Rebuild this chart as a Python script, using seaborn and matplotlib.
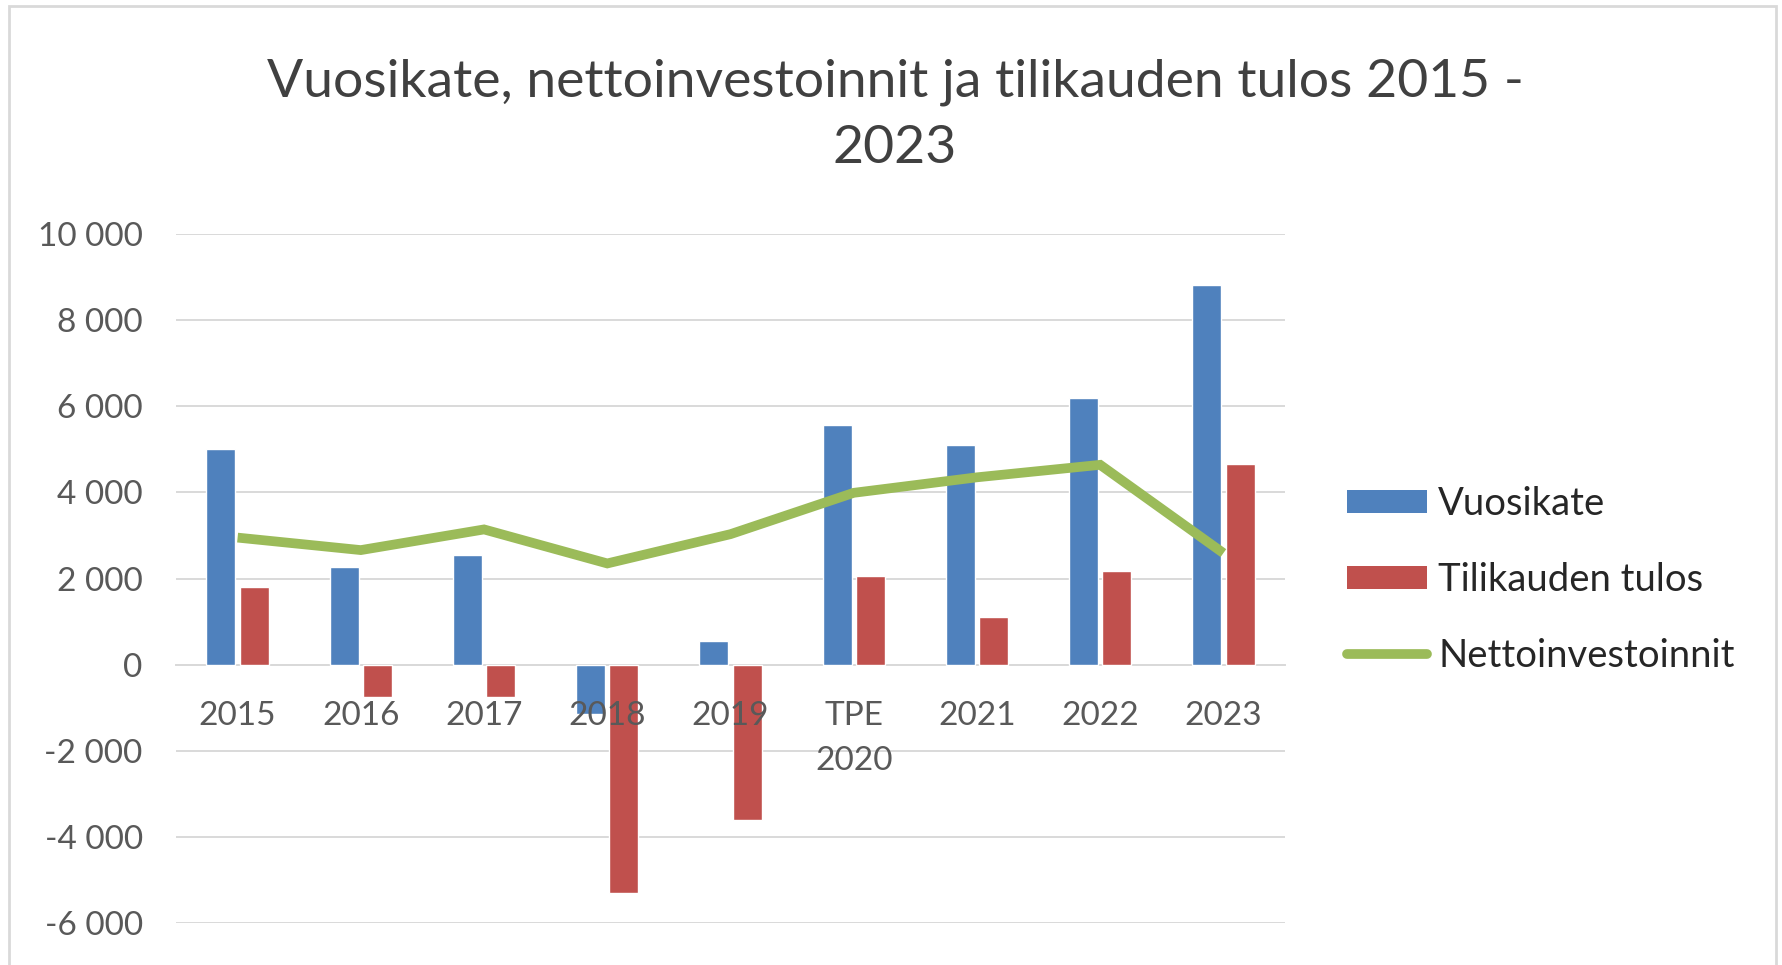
import matplotlib
matplotlib.use('Agg')
import numpy as np
import pandas as pd
import seaborn as sns
import matplotlib.pyplot as plt
from matplotlib.patches import Patch, Rectangle
from matplotlib.lines import Line2D
from matplotlib.ticker import FuncFormatter, MultipleLocator

blue_color = '#4F81BD'
red_color = '#C0504D'
green_color = '#9BBB59'
grid_color = '#D9D9D9'
text_color = '#595959'

years = ['2015', '2016', '2017', '2018', '2019', 'TPE\n2020', '2021', '2022', '2023']
vuosikate = [5000, 2270, 2550, -1150, 550, 5570, 5100, 6200, 8820]
tilikauden_tulos = [1800, -740, -740, -5300, -3600, 2060, 1100, 2170, 4670]
nettoinvestoinnit = [2950, 2660, 3140, 2350, 3030, 3990, 4350, 4640, 2590]

bars = pd.DataFrame({
    'vuosi': years * 2,
    'arvo': vuosikate + tilikauden_tulos,
    'sarja': ['Vuosikate'] * len(years) + ['Tilikauden tulos'] * len(years),
})
line = pd.DataFrame({'pos': np.arange(len(years)), 'arvo': nettoinvestoinnit})

sns.set_style('white')
plt.rcParams['font.family'] = ['Lato', 'DejaVu Sans']

fig = plt.figure(figsize=(17.83, 9.65), dpi=100)
ax = fig.add_axes([0.0987, 0.0435, 0.622, 0.714])

sns.barplot(data=bars, x='vuosi', y='arvo', hue='sarja', order=years,
            hue_order=['Vuosikate', 'Tilikauden tulos'],
            palette=[blue_color, red_color], width=0.54, gap=0.13,
            saturation=1, legend=False, ax=ax, zorder=3)
sns.lineplot(data=line, x='pos', y='arvo', color=green_color, linewidth=7,
             ax=ax, zorder=4, solid_capstyle='butt', solid_joinstyle='miter')

ax.set_ylim(-6000, 10000)
ax.set_xlim(-0.5, len(years) - 0.5)
ax.yaxis.set_major_locator(MultipleLocator(2000))
ax.yaxis.set_major_formatter(FuncFormatter(lambda v, p: f'{int(v):,}'.replace(',', ' ')))
ax.yaxis.grid(True, color=grid_color, linewidth=1.4, zorder=0)
ax.set_axisbelow(True)
for s in ['top', 'right', 'left']:
    ax.spines[s].set_visible(False)
ax.spines['bottom'].set_position(('data', 0))
ax.spines['bottom'].set_color(grid_color)
ax.spines['bottom'].set_linewidth(1.4)
ax.spines['bottom'].set_zorder(2)
ax.xaxis.set_zorder(5)
ax.set_xlabel('')
ax.set_ylabel('')
ax.tick_params(axis='both', length=0, labelsize=24, colors=text_color)
ax.tick_params(axis='x', pad=26)
ax.tick_params(axis='y', pad=24)
for lab in ax.get_xticklabels():
    lab.set_linespacing(1.62)

handles = [Patch(facecolor=blue_color, edgecolor=blue_color, linewidth=0, label='Vuosikate'),
           Patch(facecolor=red_color, edgecolor=red_color, linewidth=0, label='Tilikauden tulos'),
           Line2D([0], [0], color=green_color, linewidth=7, solid_capstyle='round',
                  label='Nettoinvestoinnit')]
fig.legend(handles=handles, loc='center left', bbox_to_anchor=(0.736, 0.399),
           frameon=False, fontsize=27.5, handlelength=2.1, handleheight=0.53,
           handletextpad=0.3, labelspacing=1.04, labelcolor='#262626')

fig.text(0.502, 0.8805, 'Vuosikate, nettoinvestoinnit ja tilikauden tulos 2015 -\n2023',
         ha='center', va='center', fontsize=38.5, color='#404040', linespacing=1.52)

fig.patches.append(Rectangle((0.005, -0.05), 0.991, 1.044, transform=fig.transFigure,
                             fill=False, edgecolor=grid_color, linewidth=2))

fig.savefig('out.png', dpi=100, facecolor='white')
